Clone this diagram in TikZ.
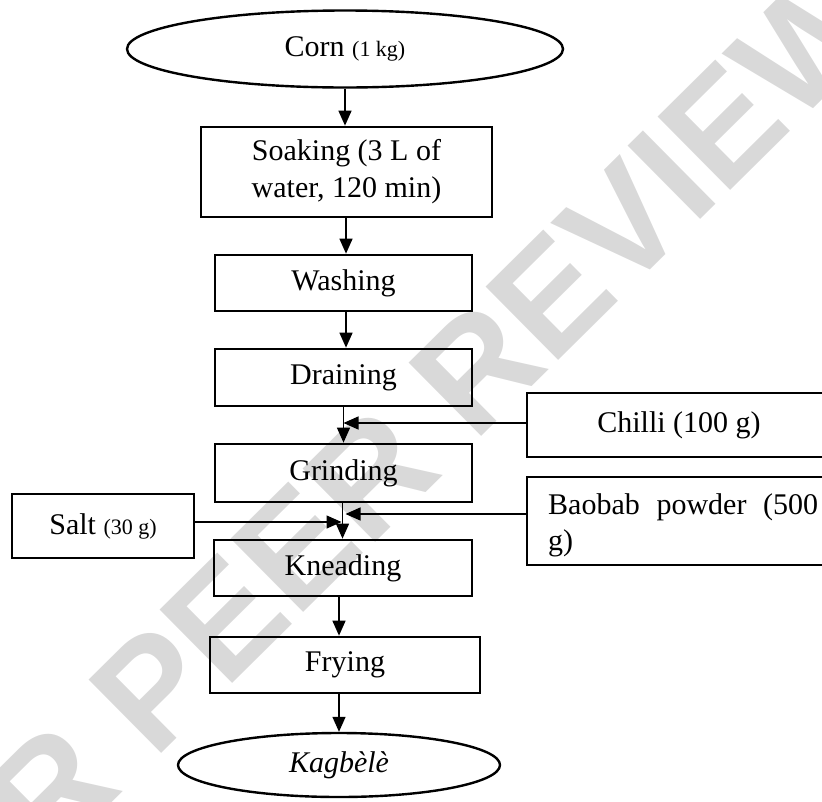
\documentclass[tikz,border=0pt]{standalone}
\usepackage{fontspec}
\setmainfont{Liberation Serif}
\newfontfamily\markfont{Liberation Sans}
\usetikzlibrary{shapes.geometric,arrows.meta}

\begin{document}
\begin{tikzpicture}[x=1pt,y=-1pt,
  every node/.style={font=\fontsize{30}{37}\selectfont},
  stepbox/.style={draw,rectangle,line width=2.7pt,inner sep=0pt,align=center},
  endpoint/.style={draw,ellipse,line width=2.4pt,inner sep=0pt},
  flow/.style={line width=1.4pt,-{Triangle[length=15pt,width=13pt]}},
  small/.style={font=\fontsize{22}{26}\selectfont}]

\useasboundingbox (0,0) rectangle (822,801);

% review watermark behind the chart
\node[text=black!15,rotate=44.7,font=\markfont\bfseries\fontsize{150}{150}\selectfont,inner sep=0pt]
  (mark) at (285,560) {UNDER PEER REVIEW};

% process steps
\node[endpoint,minimum width=436pt,minimum height=77pt] (corn) at (345,49)
  {Corn {\fontsize{22}{26}\selectfont(1 kg)}};
\node[stepbox,minimum width=291pt,minimum height=90pt] (soak) at (346.5,172)
  {Soaking (3 L of\\water, 120 min)};
\node[stepbox,minimum width=257pt,minimum height=56pt] (wash) at (343.5,283) {Washing};
\node[stepbox,minimum width=257pt,minimum height=57pt] (drain) at (343.5,377.5) {Draining};
\node[stepbox,minimum width=257pt,minimum height=58pt] (grind) at (343.5,473) {Grinding};
\node[stepbox,minimum width=258pt,minimum height=56pt] (knead) at (343,568) {Kneading};
\node[stepbox,minimum width=270pt,minimum height=56pt] (fry) at (345,665) {Frying};
\node[endpoint,minimum width=322pt,minimum height=64pt] (kag) at (339,765) {\itshape Kagbèlè};

% ingredients added along the way
\node[stepbox,minimum width=305pt,minimum height=64pt] (chilli) at (679.5,425) {};
\node at (679,425) (chillitext) {Chilli (100 g)};
\node[stepbox,minimum width=305pt,minimum height=88pt] (baobab) at (679.5,521) {};
\node[anchor=base west,inner sep=0pt] (baobab1) at (548,514)
  {\makebox[270pt][s]{Baobab powder (500}};
\node[anchor=base west,inner sep=0pt] (baobab2) at (548,550) {g)};
\node[stepbox,minimum width=182pt,minimum height=64pt] (salt) at (103,526)
  {Salt {\fontsize{22}{26}\selectfont(30 g)}};

% main flow
\draw[flow] (corn.south) -- (corn.south |- soak.north);
\draw[flow] ([xshift=-0.5pt]soak.south) -- ([xshift=-0.5pt]soak.south |- wash.north);
\draw[flow] ([xshift=2.5pt]wash.south) -- ([xshift=2.5pt]wash.south |- drain.north);
\draw[flow] (drain.south) -- (drain.south |- grind.north);
\draw[flow] ([xshift=-1pt]grind.south) -- ([xshift=-1pt]grind.south |- knead.north);
\draw[flow] ([xshift=-4pt]knead.south) -- ([xshift=-4pt]knead.south |- fry.north);
\draw[flow] ([xshift=-6pt]fry.south) -- ([xshift=-6pt]fry.south |- kag.north);

% side inputs
\draw[flow] ([yshift=2pt]chilli.west) -- ([yshift=2pt]chilli.west -| drain.south);
\draw[flow] ([yshift=7pt]baobab.west) -- ([yshift=7pt,xshift=2pt]baobab.west -| grind.south);
\draw[flow] ([yshift=4pt]salt.east) -- ([yshift=4pt,xshift=-2pt]salt.east -| grind.south);
\end{tikzpicture}
\end{document}
